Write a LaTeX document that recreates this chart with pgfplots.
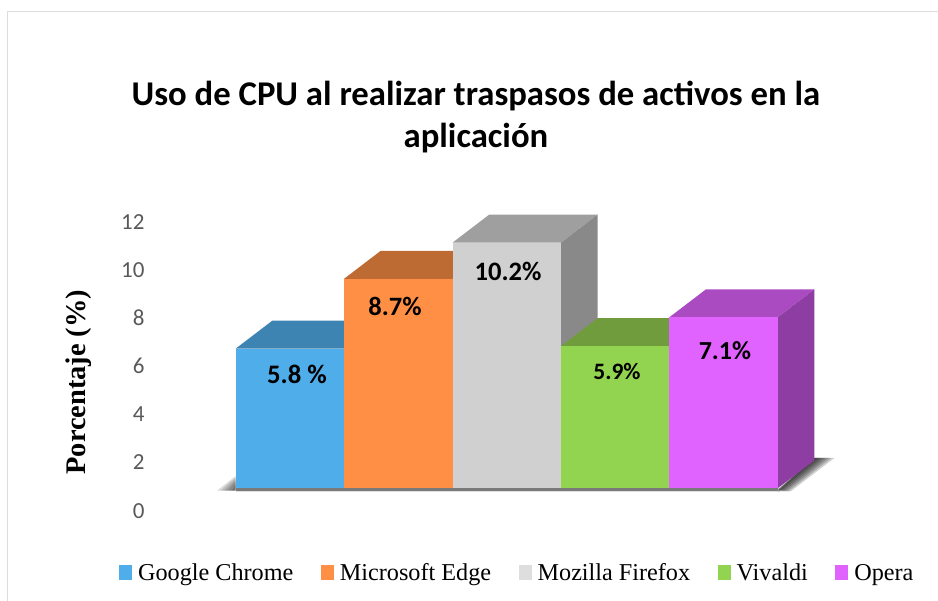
\documentclass[border=0pt]{standalone}
\usepackage{pgfplots}
\pgfplotsset{compat=1.18}
\usepackage{fontspec}
\setmainfont{Carlito}
\newfontfamily\serifcam{Liberation Serif}
\definecolor{fb}{HTML}{4FADEA}\definecolor{tb}{HTML}{3E84B3}
\definecolor{fo}{HTML}{FF8F44}\definecolor{to}{HTML}{BE6B33}
\definecolor{fg}{HTML}{D0D0D0}\definecolor{tg}{HTML}{9F9F9F}\definecolor{sg}{HTML}{898989}
\definecolor{fv}{HTML}{92D350}\definecolor{tv}{HTML}{719C3D}
\definecolor{fp}{HTML}{E062FF}\definecolor{tp}{HTML}{AB4BC2}\definecolor{sp}{HTML}{8E3EA3}
\definecolor{tick}{HTML}{595959}
\definecolor{frame}{HTML}{DDDDDD}
\begin{document}
\begin{tikzpicture}[x=1pt,y=1pt]
\path[use as bounding box] (0,0) rectangle (938,601);
\draw[frame,line width=1.3pt] (7.5,0) -- (7.5,589.7) -- (938,589.7);
\begin{axis}[
  at={(150pt,90.3pt)},anchor=south west,
  scale only axis,width=681.9pt,height=289pt,
  xmin=-1.2906,xmax=5,ymin=-0.93,ymax=11.07,clip=false,
  axis line style={draw=none},
  major tick length=0pt,
  xtick=\empty,
  ytick={-0.93,1.07,3.07,5.07,7.07,9.07,11.07},
  yticklabels={0,2,4,6,8,10,12},
  /pgf/number format/assume math mode=true,
  yticklabel style={inner sep=0pt,xshift=-5.3pt,text=tick,font=\fontsize{23}{23}\selectfont},
  every axis y label/.style={at={(axis description cs:-0.104,0.445)},rotate=90,anchor=center},
  ylabel={\serifcam\bfseries\fontsize{28.4}{28.4}\selectfont Porcentaje (\%)},
  title style={at={(axis description cs:0.478,1.3415)},anchor=center,align=center,inner sep=0pt,
    font=\bfseries\fontsize{34.7}{41.5}\selectfont},
  title={Uso de CPU al realizar traspasos de activos en la\\aplicación},
  legend style={at={(axis description cs:-0.0455,-0.2155)},anchor=west,draw=none,fill=none,inner sep=0pt,
    font=\serifcam\fontsize{24.2}{24.2}\selectfont,
    /tikz/every even column/.append style={column sep=25.5pt},
    /tikz/every odd column/.append style={column sep=4pt}},
  legend columns=5,legend cell align=left,
  legend image code/.code={\fill[#1,draw=none] (0pt,-7pt) rectangle (13pt,8pt);},
  no markers,
]
% shadows
\addplot[fill=black,fill opacity=0.18,draw=none,forget plot] coordinates {(4.50,-0.13)(4.620,-0.13)(5.024,1.26)(4.8386,1.26)} -- cycle;
\addplot[fill=black,fill opacity=0.18,draw=none,forget plot] coordinates {(4.50,-0.115)(4.602,-0.115)(4.996,1.26)(4.8386,1.26)} -- cycle;
\addplot[fill=black,fill opacity=0.18,draw=none,forget plot] coordinates {(4.50,-0.10)(4.584,-0.10)(4.968,1.26)(4.8386,1.26)} -- cycle;
\addplot[fill=black,fill opacity=0.18,draw=none,forget plot] coordinates {(4.50,-0.085)(4.566,-0.085)(4.940,1.26)(4.8386,1.26)} -- cycle;
\addplot[fill=black,fill opacity=0.18,draw=none,forget plot] coordinates {(4.50,-0.07)(4.548,-0.07)(4.913,1.26)(4.8386,1.26)} -- cycle;
\addplot[fill=black,fill opacity=0.18,draw=none,forget plot] coordinates {(4.50,-0.055)(4.530,-0.055)(4.885,1.26)(4.8386,1.26)} -- cycle;
\addplot[fill=black,fill opacity=0.18,draw=none,forget plot] coordinates {(4.50,-0.04)(4.512,-0.04)(4.857,1.26)(4.8386,1.26)} -- cycle;
\addplot[fill=black,fill opacity=0.15,draw=none,forget plot] coordinates {(-0.672,-0.10)(-0.5,-0.10)(-0.5,0.51)} -- cycle;
\addplot[fill=black,fill opacity=0.15,draw=none,forget plot] coordinates {(-0.638,-0.10)(-0.5,-0.10)(-0.5,0.44)} -- cycle;
\addplot[fill=black,fill opacity=0.15,draw=none,forget plot] coordinates {(-0.603,-0.10)(-0.5,-0.10)(-0.5,0.36)} -- cycle;
\addplot[fill=black,fill opacity=0.15,draw=none,forget plot] coordinates {(-0.569,-0.10)(-0.5,-0.10)(-0.5,0.28)} -- cycle;
\addplot[fill=black,fill opacity=0.15,draw=none,forget plot] coordinates {(-0.534,-0.10)(-0.5,-0.10)(-0.5,0.16)} -- cycle;
\addplot[fill=black,fill opacity=0.12,draw=none,forget plot] coordinates {(-0.5,-0.17)(4.52,-0.17)(4.52,0.02)(-0.5,0.02)} -- cycle;
\addplot[fill=black!52,draw=none,forget plot] coordinates {(-0.5,-0.11)(4.5,-0.11)(4.5,0.02)(-0.5,0.02)} -- cycle;
% Google Chrome
\addplot[fill=tb,draw=none,forget plot] coordinates {(-0.5,5.8)(0.5,5.8)(0.8386,6.963)(-0.1614,6.963)} -- cycle;
\addplot[ybar,bar width=1,bar shift=0pt,fill=fb,draw=none,forget plot] coordinates {(0,5.8)};
% Microsoft Edge
\addplot[fill=to,draw=none,forget plot] coordinates {(0.5,8.7)(1.5,8.7)(1.8386,9.863)(0.8386,9.863)} -- cycle;
\addplot[ybar,bar width=1,bar shift=0pt,fill=fo,draw=none,forget plot] coordinates {(1,8.7)};
% Mozilla Firefox
\addplot[fill=tg,draw=none,forget plot] coordinates {(1.5,10.2)(2.5,10.2)(2.8386,11.363)(1.8386,11.363)} -- cycle;
\addplot[fill=sg,draw=none,forget plot] coordinates {(2.5,0)(2.8386,1.163)(2.8386,11.363)(2.5,10.2)} -- cycle;
\addplot[ybar,bar width=1,bar shift=0pt,fill=fg,draw=none,forget plot] coordinates {(2,10.2)};
% Vivaldi
\addplot[fill=tv,draw=none,forget plot] coordinates {(2.5,5.9)(3.5,5.9)(3.8386,7.063)(2.8386,7.063)} -- cycle;
\addplot[ybar,bar width=1,bar shift=0pt,fill=fv,draw=none,forget plot] coordinates {(3,5.9)};
% Opera
\addplot[fill=tp,draw=none,forget plot] coordinates {(3.5,7.1)(4.5,7.1)(4.8386,8.263)(3.8386,8.263)} -- cycle;
\addplot[fill=sp,draw=none,forget plot] coordinates {(4.5,0)(4.8386,1.163)(4.8386,8.263)(4.5,7.1)} -- cycle;
\addplot[ybar,bar width=1,bar shift=0pt,fill=fp,draw=none,forget plot] coordinates {(4,7.1)};
% data labels
\node[font=\bfseries\fontsize{26.7}{26.7}\selectfont] at (axis cs:0.0655,4.72) {5.8 \%};
\node[font=\bfseries\fontsize{26.5}{26.5}\selectfont] at (axis cs:0.9695,7.53) {8.7\%};
\node[font=\bfseries\fontsize{26.6}{26.6}\selectfont] at (axis cs:2.012,9.02) {10.2\%};
\node[font=\bfseries\fontsize{23.5}{23.5}\selectfont] at (axis cs:3.0175,4.83) {5.9\%};
\node[font=\bfseries\fontsize{26}{26}\selectfont] at (axis cs:4.013,5.70) {7.1\%};
% legend
\addlegendimage{fill=fb}\addlegendentry{Google Chrome}
\addlegendimage{fill=fo}\addlegendentry{Microsoft Edge}
\addlegendimage{fill=fg!70!white}\addlegendentry{Mozilla Firefox}
\addlegendimage{fill=fv}\addlegendentry{Vivaldi}
\addlegendimage{fill=fp}\addlegendentry{Opera}
\end{axis}
\end{tikzpicture}
\end{document}
